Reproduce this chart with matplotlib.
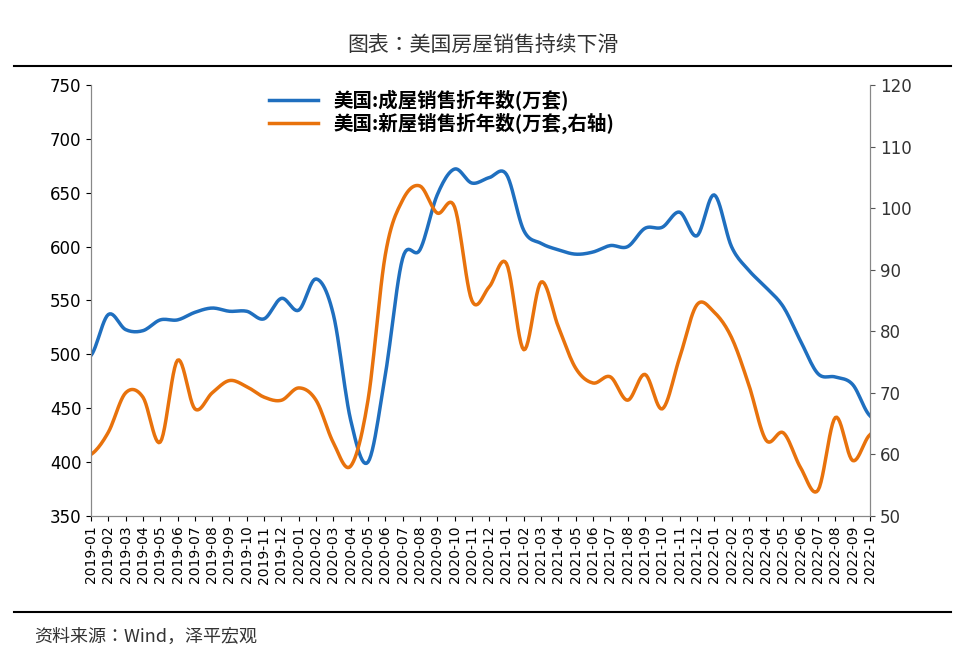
import numpy as np
import matplotlib
matplotlib.use("Agg")
import matplotlib.pyplot as plt
from matplotlib.lines import Line2D

CJK = 'Noto Sans CJK JP'
plt.rcParams['font.family'] = ['DejaVu Sans', CJK]

months = [f"{y}-{m:02d}" for y in range(2019, 2023) for m in range(1, 13)][:46]
existing = [499, 537, 523, 522, 532, 532, 539, 543, 540, 540, 533, 552,
            541, 570, 537, 439, 400, 481, 589, 597, 648, 672, 659, 664,
            667, 615, 603, 597, 593, 595, 601, 600, 617, 618, 632, 610,
            648, 600, 578, 562, 544, 512, 482, 479, 472, 443]
new = [60, 63.6, 70, 69.3, 62, 75.3, 67.4, 70, 72, 71, 69.3, 68.8,
       70.8, 68.8, 61.9, 58.1, 68.8, 92.4, 101.3, 103.6, 99.2, 100.2, 85, 87.2,
       91, 77, 88, 80.7, 74, 71.6, 72.6, 68.8, 73, 67.4, 75.7, 84.3,
       83.1, 79, 71.3, 62.3, 63.5, 57.8, 54.2, 66, 59, 63.2]

def smooth(y, n=12):
    y = np.asarray(y, float)
    p = np.concatenate([[y[0]], y, [y[-1]]])
    xs, ys = [], []
    for i in range(len(y) - 1):
        p0, p1, p2, p3 = p[i], p[i+1], p[i+2], p[i+3]
        t = np.linspace(0, 1, n, endpoint=False)
        v = 0.5*((2*p1) + (-p0+p2)*t + (2*p0-5*p1+4*p2-p3)*t**2 + (-p0+3*p1-3*p2+p3)*t**3)
        xs.append(i + t); ys.append(v)
    xs.append([len(y)-1]); ys.append([y[-1]])
    return np.concatenate(xs), np.concatenate(ys)

fig = plt.figure(figsize=(9.65, 6.67), dpi=100)
ax = fig.add_axes([91/965, 1-516/667, 779/965, 431/667])
ax2 = ax.twinx()
blue, orange = '#1f6fbf', '#e8720c'
xb, yb = smooth(existing)
xo, yo = smooth(new)
ax.plot(xb, yb, color=blue, lw=2.5)
ax2.plot(xo, yo, color=orange, lw=2.5)
ax.set_ylim(350, 750); ax.set_yticks(range(350, 751, 50))
ax2.set_ylim(50, 120); ax2.set_yticks(range(50, 121, 10))
ax.set_xlim(0, 45)
ax.set_xticks(range(46)); ax.set_xticklabels(months, rotation=90, fontsize=10)
ax.tick_params(axis='y', labelsize=12, direction='out')
ax2.tick_params(axis='y', labelsize=12, colors='#555555', labelcolor='#333333')
for a in (ax, ax2):
    for s in a.spines.values():
        s.set_color('#888888')
ax.spines['top'].set_visible(False); ax2.spines['top'].set_visible(False)
handles = [Line2D([], [], color=blue, lw=2.5), Line2D([], [], color=orange, lw=2.5)]
ax.legend(handles, ['美国:成屋销售折年数(万套)', '美国:新屋销售折年数(万套,右轴)'],
          loc='upper center', bbox_to_anchor=(0.45, 1.03), frameon=False,
          prop={'weight': 'bold', 'size': 14, 'family': CJK},
          handlelength=2.5, labelspacing=0.1)
fig.text(0.5, 1-45/667, '图表：美国房屋销售持续下滑', ha='center', va='center', fontsize=15,
         color='#333333', family=CJK)
fig.add_artist(Line2D([0.015, 0.985], [1-66/667]*2, color='black', lw=1.5))
fig.add_artist(Line2D([0.015, 0.985], [1-612/667]*2, color='black', lw=1.5))
fig.text(0.035, 1-637/667, '资料来源：Wind，泽平宏观', ha='left', va='center', fontsize=13,
         style='italic', color='#333333', family=CJK)
fig.savefig('out.png', dpi=100)
